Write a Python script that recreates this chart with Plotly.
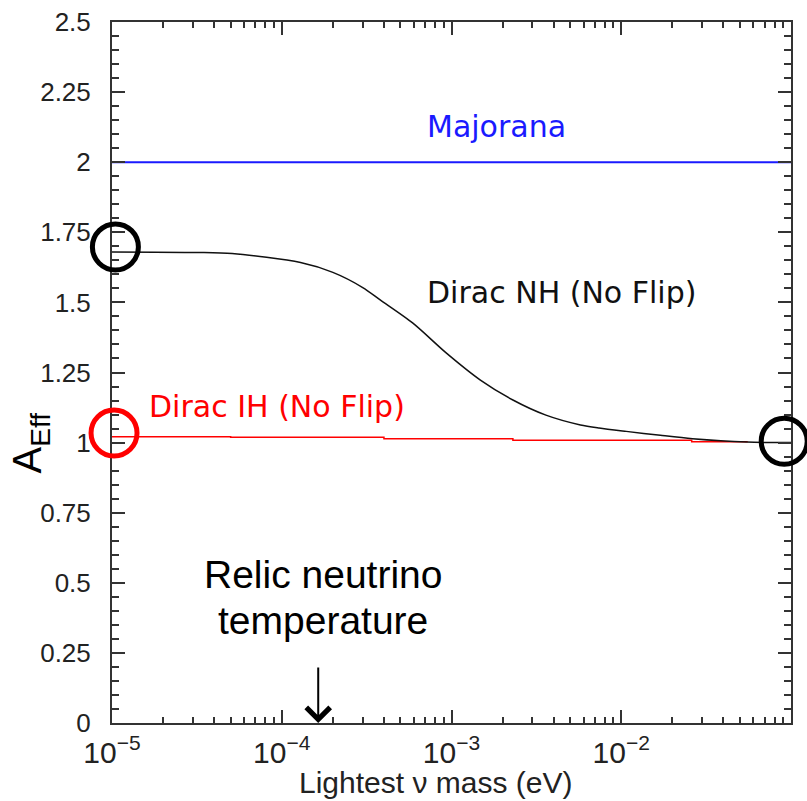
import math
import plotly.graph_objects as go

# ---- data ----
nh_mass = [1e-5, 3.16e-5, 5.1e-5, 1.29e-4, 2.0e-4, 3.0e-4, 3.8e-4, 5.9e-4, 9.3e-4,
           1.48e-3, 2.3e-3, 3.6e-3, 5.75e-3, 7.4e-3, 1.07e-2, 1.7e-2, 2.63e-2, 5.5e-2, 0.1]
nh_aeff = [1.680, 1.678, 1.674, 1.642, 1.607, 1.553, 1.509, 1.427, 1.320,
           1.223, 1.152, 1.098, 1.063, 1.052, 1.040, 1.026, 1.014, 1.002, 1.000]

ih_mass = [1e-5, 5e-5, 4e-4, 2.3e-3, 2.6e-2, 5.5e-2]
ih_aeff = [1.021, 1.019, 1.014, 1.008, 1.003, 1.000]

maj_mass = [1e-5, 0.1]
maj_aeff = [2.0, 2.0]

relic_T = 1.64e-4  # eV, arrow position

fig = go.Figure()
fig.add_trace(go.Scatter(x=maj_mass, y=maj_aeff, mode="lines",
                         line=dict(color="#1a1aff", width=2), showlegend=False))
fig.add_trace(go.Scatter(x=ih_mass, y=ih_aeff, mode="lines",
                         line=dict(color="#ff0000", width=1.5, shape="hv"), showlegend=False))
fig.add_trace(go.Scatter(x=nh_mass, y=nh_aeff, mode="lines",
                         line=dict(color="#111111", width=1.5, shape="spline", smoothing=0.8),
                         showlegend=False))

lab_font = dict(family="DejaVu Sans", size=30)
annotations = [
    dict(x=-3.156, y=2.129, text="Majorana", showarrow=False, xanchor="left", yanchor="middle",
         font=dict(lab_font, color="#1a1aff")),
    dict(x=-3.156, y=1.534, text="Dirac NH (No Flip)", showarrow=False, xanchor="left", yanchor="middle",
         font=dict(lab_font, color="#111111")),
    dict(x=-4.794, y=1.127, text="Dirac IH (No Flip)", showarrow=False, xanchor="left", yanchor="middle",
         font=dict(lab_font, color="#ff0000")),
    dict(x=-3.757, y=0.528, text="Relic neutrino", showarrow=False, xanchor="center", yanchor="middle",
         font=dict(family="Liberation Sans", size=39, color="black")),
    dict(x=-3.757, y=0.367, text="temperature", showarrow=False, xanchor="center", yanchor="middle",
         font=dict(family="Liberation Sans", size=39, color="black")),
    dict(x=math.log10(relic_T), y=0, ax=0, ay=-57, showarrow=True, arrowhead=4,
         arrowwidth=2, arrowsize=2.3, arrowcolor="black", text="", standoff=0),
    dict(xref="paper", x=-0.121, y=1.0, text="A<sub>Eff</sub>", showarrow=False,
         textangle=-90, xanchor="center", yanchor="middle",
         font=dict(family="Liberation Sans", size=40, color="black")),
    dict(xref="paper", yref="paper", x=0.477, y=0, yshift=-59, text="Lightest ν mass (eV)",
         showarrow=False, xanchor="center", yanchor="middle",
         font=dict(family="Liberation Sans", size=30, color="#222222")),
]

def circle(xp, yv, color):
    return dict(type="circle", xref="paper", yref="y", xsizemode="pixel", ysizemode="pixel",
                xanchor=xp, yanchor=yv, x0=-23, x1=23, y0=-23, y1=23,
                line=dict(color=color, width=5))

shapes = [circle(0.005, 1.698, "black"),
          circle(0.003, 1.034, "#ff0000"),
          circle(0.990, 1.005, "black")]

axis_common = dict(showline=True, linecolor="#333333", linewidth=2, mirror="allticks",
                   ticks="inside", tickcolor="#333333", tickwidth=2, showgrid=False,
                   zeroline=False, automargin=False)

fig.update_layout(
    width=807, height=801,
    margin=dict(l=112, r=16, t=22, b=78),
    paper_bgcolor="white", plot_bgcolor="white",
    annotations=annotations, shapes=shapes,
    xaxis=dict(axis_common, type="log", range=[-5, -1], dtick=1, exponentformat="power",
               ticklen=13, ticklabelstandoff=3,
               tickfont=dict(family="Liberation Sans", size=24, color="#222222"),
               minor=dict(dtick="D1", ticks="inside", ticklen=6, tickcolor="#333333", tickwidth=2)),
    yaxis=dict(axis_common, range=[0, 2.5], dtick=0.25, ticklen=13, ticklabelstandoff=14,
               tickformat="~g",
               tickfont=dict(family="Liberation Sans", size=26, color="#222222"),
               minor=dict(dtick=0.05, ticks="inside", ticklen=7, tickcolor="#333333", tickwidth=2)),
)

fig.write_html("out.html")
